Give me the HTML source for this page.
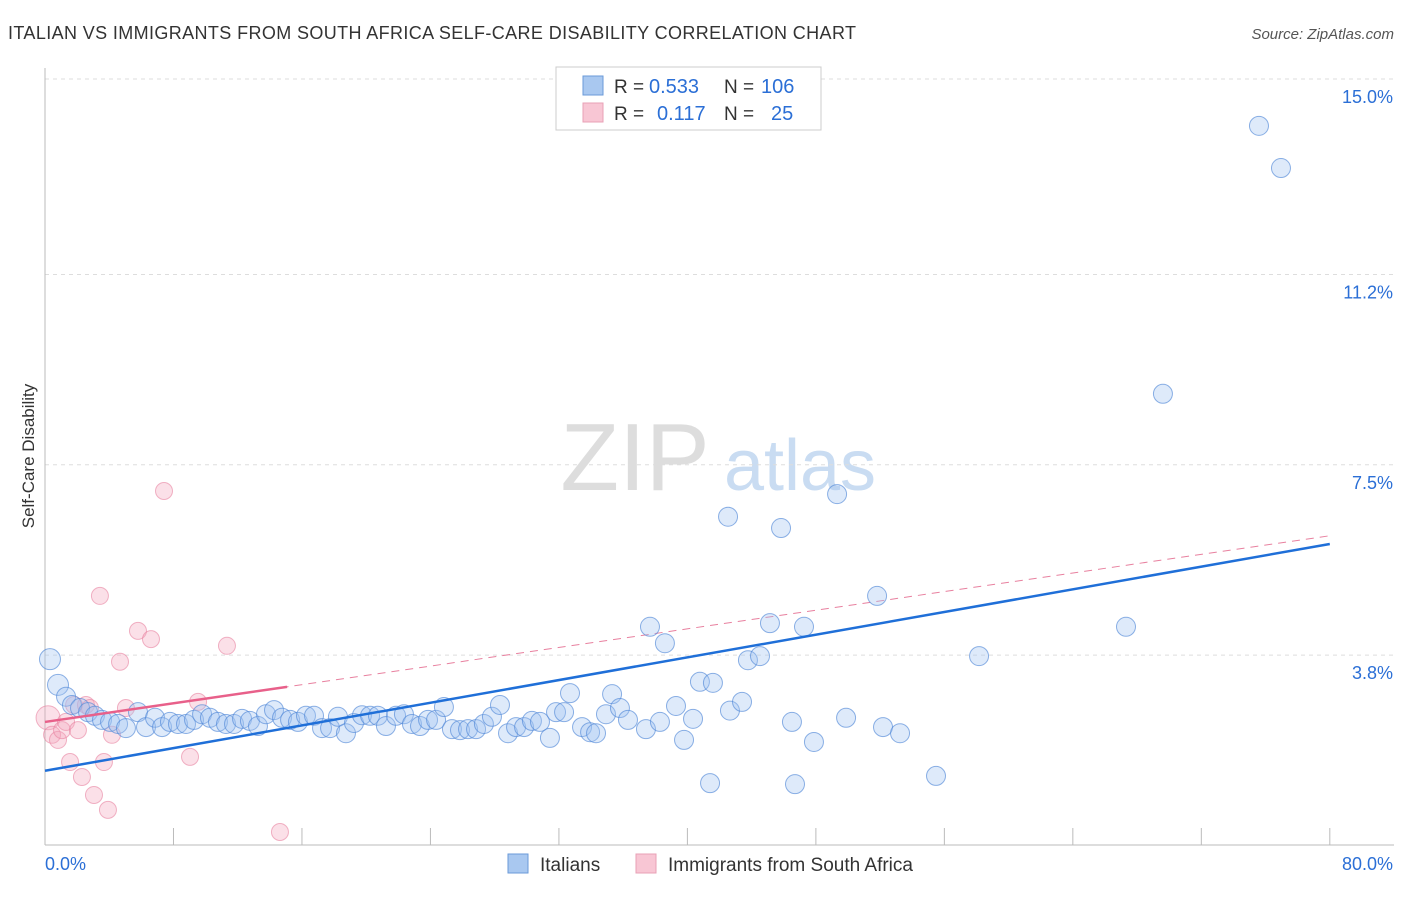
<!DOCTYPE html>
<html><head><meta charset="utf-8"><style>
body{margin:0;background:#fff;font-family:"Liberation Sans",sans-serif;}
svg text{font-family:"Liberation Sans",sans-serif;}
</style></head><body>
<svg id="chart" width="1406" height="892" xmlns="http://www.w3.org/2000/svg">
<text x="8" y="39" font-size="18" fill="#333" textLength="848">ITALIAN VS IMMIGRANTS FROM SOUTH AFRICA SELF-CARE DISABILITY CORRELATION CHART</text>
<text x="1394" y="39" font-size="15" fill="#555" font-style="italic" text-anchor="end">Source: ZipAtlas.com</text>
<text x="34" y="456" font-size="17" fill="#333" text-anchor="middle" transform="rotate(-90 34 456)">Self-Care Disability</text>
<g><text x="635" y="490" font-size="96" fill="#ddd" text-anchor="middle" font-family="Liberation Serif,serif">ZIP</text><text x="800" y="490" font-size="72" fill="#c9dcf2" text-anchor="middle">atlas</text></g>
<g id="grid"></g><g id="axes"></g><g id="lines"></g><g id="pts"></g>
<g>
<rect x="556" y="67" width="265" height="63" fill="#fff" stroke="#ccc"/>
<rect x="583" y="76" width="20" height="19" fill="#a9c8f0" stroke="#6a9ad8"/>
<rect x="583" y="103" width="20" height="19" fill="#f8c6d4" stroke="#e8a0b6"/>
<text x="614" y="93" font-size="19" fill="#333">R =</text>
<text x="649" y="93" font-size="20" fill="#2b6fd6">0.533</text>
<text x="724" y="93" font-size="19" fill="#333">N =</text>
<text x="761" y="93" font-size="20" fill="#2b6fd6">106</text>
<text x="614" y="120" font-size="19" fill="#333">R =</text>
<text x="657" y="120" font-size="20" fill="#2b6fd6">0.117</text>
<text x="724" y="120" font-size="19" fill="#333">N =</text>
<text x="771" y="120" font-size="20" fill="#2b6fd6">25</text>
</g>
<g>
<rect x="508" y="854" width="20" height="19" fill="#a9c8f0" stroke="#6a9ad8"/>
<text x="540" y="871" font-size="19" fill="#333">Italians</text>
<rect x="636" y="854" width="20" height="19" fill="#f8c6d4" stroke="#e8a0b6"/>
<text x="668" y="871" font-size="19" fill="#333">Immigrants from South Africa</text>
</g>
</svg>
<script>
const blueX=[0.31,0.81,1.31,1.68,2.18,2.68,3.11,3.55,4.05,4.55,5.04,5.79,6.29,6.85,7.29,7.78,8.28,8.78,9.28,9.78,10.27,10.77,11.27,11.77,12.27,12.76,13.26,13.76,14.26,14.76,15.26,15.75,16.25,16.75,17.25,17.75,18.24,18.74,19.24,19.74,20.24,20.73,21.23,21.86,22.35,22.85,23.35,23.85,24.35,24.84,25.34,25.84,26.34,26.84,27.33,27.83,28.33,28.83,29.33,29.83,30.32,30.82,31.44,31.82,32.32,32.69,33.44,33.94,34.31,34.93,35.31,35.8,36.3,37.42,37.67,38.29,38.6,39.29,39.79,40.35,40.78,41.41,41.59,42.53,42.65,43.4,43.77,44.52,45.14,45.83,46.51,46.7,47.26,47.88,49.32,49.88,51.81,52.18,53.24,55.48,58.16,67.31,69.61,75.59,76.96];
const blueY=[3.72,3.22,2.99,2.83,2.77,2.69,2.62,2.54,2.5,2.46,2.38,2.69,2.4,2.58,2.4,2.5,2.46,2.46,2.54,2.65,2.58,2.5,2.46,2.46,2.56,2.52,2.42,2.65,2.73,2.58,2.54,2.5,2.62,2.62,2.38,2.38,2.6,2.28,2.48,2.63,2.62,2.62,2.42,2.62,2.65,2.46,2.42,2.54,2.54,2.79,2.36,2.34,2.36,2.36,2.46,2.6,2.83,2.28,2.4,2.4,2.52,2.5,2.19,2.69,2.69,3.06,2.4,2.3,2.28,2.65,3.04,2.77,2.54,2.36,4.35,2.5,4.03,2.81,2.15,2.56,3.28,1.31,3.26,6.49,2.72,2.89,3.7,3.78,4.42,6.27,2.5,1.29,4.35,2.11,6.93,2.58,4.95,2.4,2.28,1.45,3.78,4.35,8.88,14.09,13.27];
const pinkX=[0.19,0.44,0.81,1.06,1.31,1.56,1.81,2.05,2.3,2.55,2.8,3.05,3.42,3.67,3.92,4.17,4.67,5.04,5.79,6.6,7.41,9.03,9.53,11.33,14.63];
const pinkY=[2.58,2.25,2.15,2.34,2.5,1.72,2.83,2.34,1.43,2.83,2.77,1.08,4.95,1.72,0.79,2.25,3.67,2.77,4.27,4.11,6.99,1.82,2.89,3.98,0.36];
const yTicks=[3.8,7.5,11.2,15.0];
const yTickLabels=["3.8%","7.5%","11.2%","15.0%"];
const xTickVals=[0,8,16,24,32,40,48,56,64,72,80];
const blueTrend=[1.55,5.96];
const pinkTrend=[2.5,6.12];
const pinkSolidEnd=15.07;
const X=v=>45+v*16.06, Y=v=>850.5-v*51.43;
const NS="http://www.w3.org/2000/svg";
function mk(t,a,p){const e=document.createElementNS(NS,t);for(const k in a)e.setAttribute(k,a[k]);p.appendChild(e);return e;}
const grid=document.getElementById('grid'),axes=document.getElementById('axes'),lines=document.getElementById('lines'),pts=document.getElementById('pts');
yTicks.forEach((v,i)=>{
 const l=mk('line',{x1:45,x2:1394,y1:Y(v),y2:Y(v),stroke:'#ddd','stroke-dasharray':'4,4'},grid);
 
 
 const t=mk('text',{x:1393,y:Y(v)+24,'font-size':18,fill:'#2b6fd6','text-anchor':'end'},axes);
 t.textContent=yTickLabels[i];
 
 
});
const ya=mk('line',{x1:45,x2:45,y1:68,y2:845,stroke:'#bbb'},axes);


const xa=mk('line',{x1:45,x2:1394,y1:845,y2:845,stroke:'#bbb'},axes);


xTickVals.forEach(v=>{
 const t=mk('line',{x1:X(v),x2:X(v),y1:828,y2:845,stroke:'#bbb'},axes);
 
 
});
const xl0=mk('text',{x:45,y:870,'font-size':18,fill:'#2b6fd6'},axes);xl0.textContent='0.0%';


const xl1=mk('text',{x:1393,y:870,'font-size':18,fill:'#2b6fd6','text-anchor':'end'},axes);xl1.textContent='80.0%';


pinkX.forEach((x,i)=>{
 const c=mk('circle',{cx:X(x),cy:Y(pinkY[i]),r:i==0?12:8.5,fill:'rgba(244,165,190,0.35)',stroke:'rgba(232,130,160,0.6)','stroke-width':1},pts);
 
 
});
blueX.forEach((x,i)=>{
 const c=mk('circle',{cx:X(x),cy:Y(blueY[i]),r:i<2?10.5:9.5,fill:'rgba(160,195,240,0.35)',stroke:'rgba(80,135,215,0.65)','stroke-width':1},pts);
 
 
});
const pd=mk('line',{x1:X(0),y1:Y(pinkTrend[0]),x2:X(80),y2:Y(pinkTrend[1]),stroke:'#e8809f','stroke-width':1,'stroke-dasharray':'8,6'},lines);


const ps=mk('line',{x1:X(0),y1:Y(pinkTrend[0]),x2:X(pinkSolidEnd),y2:Y(pinkTrend[0]+(pinkTrend[1]-pinkTrend[0])*pinkSolidEnd/80),stroke:'#e8608a','stroke-width':2.5},pts);


const bl=mk('line',{x1:X(0),y1:Y(blueTrend[0]),x2:X(80),y2:Y(blueTrend[1]),stroke:'#1f6fd8','stroke-width':2.5},pts);


</script>
</body></html>
